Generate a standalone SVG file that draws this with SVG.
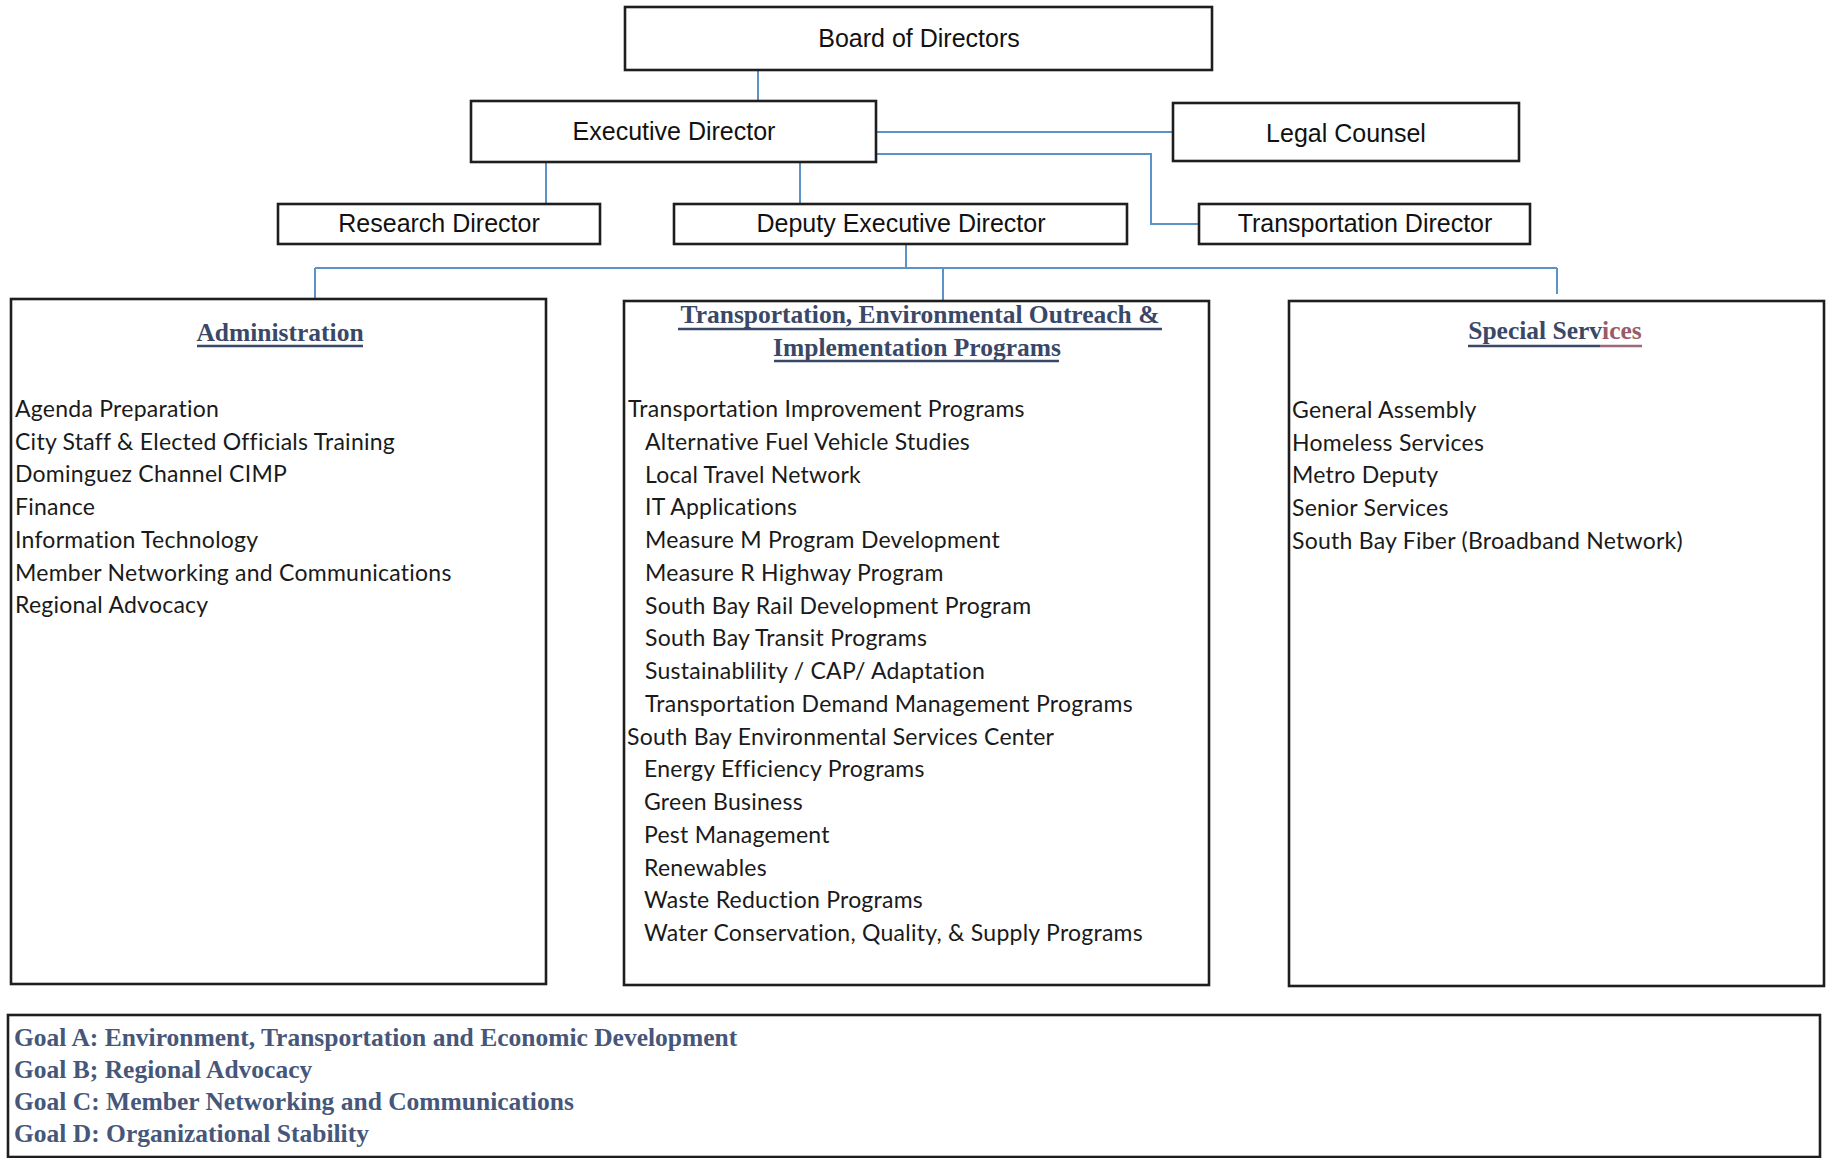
<svg xmlns="http://www.w3.org/2000/svg" width="1832" height="1158" viewBox="0 0 1832 1158">
<style>
.box{fill:#ffffff;stroke:#1e1e1e;stroke-width:2.6}
.conn{fill:none;stroke:#5b93c6;stroke-width:2}
.lbl{font-family:"Liberation Sans",Arial,sans-serif;font-size:25px;fill:#111111;text-anchor:middle}
.ttl{font-family:"Liberation Serif","Times New Roman",serif;font-weight:bold;font-size:25.5px;fill:#3a4868;text-anchor:middle}
.ul{stroke:#3a4868;stroke-width:2.5}
.body{font-family:Lato,"Open Sans",sans-serif;font-size:23px;letter-spacing:0.25px;fill:#1a1a1a}
.goal{font-family:"Liberation Serif","Times New Roman",serif;font-weight:bold;font-size:25.5px;fill:#46577a}
</style>
<rect width="1832" height="1158" fill="#ffffff"/>
<g id="connectors">
<path class="conn" d="M758 70V101"/>
<path class="conn" d="M876 132H1173"/>
<path class="conn" d="M876 154H1151V224H1199"/>
<path class="conn" d="M546 162V204"/>
<path class="conn" d="M800 162V204"/>
<path class="conn" d="M906 244V268"/>
<path class="conn" d="M315 268H1557"/>
<path class="conn" d="M315 268V299"/>
<path class="conn" d="M943 268V301"/>
<path class="conn" d="M1557 268V294"/>
</g>
<g id="board">
<rect class="box" x="625" y="7" width="587" height="63"/>
<text class="lbl" x="919" y="47">Board of Directors</text>
</g>
<g id="executive">
<rect class="box" x="471" y="101" width="405" height="61"/>
<text class="lbl" x="674" y="140">Executive Director</text>
</g>
<g id="legal">
<rect class="box" x="1173" y="103" width="346" height="58"/>
<text class="lbl" x="1346" y="142">Legal Counsel</text>
</g>
<g id="research">
<rect class="box" x="278" y="204" width="322" height="40"/>
<text class="lbl" x="439" y="232">Research Director</text>
</g>
<g id="deputy">
<rect class="box" x="674" y="204" width="453" height="40"/>
<text class="lbl" x="901" y="232">Deputy Executive Director</text>
</g>
<g id="transportation">
<rect class="box" x="1199" y="204" width="331" height="40"/>
<text class="lbl" x="1365" y="232">Transportation Director</text>
</g>
<g id="administration">
<rect class="box" x="11" y="299" width="535" height="685"/>
<text class="ttl" x="280" y="341">Administration</text>
<line class="ul" x1="197" y1="346" x2="363" y2="346"/>
<text class="body" x="15" y="417">Agenda Preparation</text>
<text class="body" x="15" y="449.7">City Staff &amp; Elected Officials Training</text>
<text class="body" x="15" y="482.4">Dominguez Channel CIMP</text>
<text class="body" x="15" y="515.1">Finance</text>
<text class="body" x="15" y="547.8">Information Technology</text>
<text class="body" x="15" y="580.5">Member Networking and Communications</text>
<text class="body" x="15" y="613.2">Regional Advocacy</text>
</g>
<g id="programs">
<rect class="box" x="624" y="301" width="585" height="684"/>
<text class="ttl" x="920" y="323">Transportation, Environmental Outreach &amp;</text>
<line class="ul" x1="678" y1="329" x2="1162" y2="329"/>
<text class="ttl" x="917" y="356">Implementation Programs</text>
<line class="ul" x1="774" y1="361" x2="1059" y2="361"/>
<text class="body" x="628" y="417">Transportation Improvement Programs</text>
<text class="body" x="645" y="449.75">Alternative Fuel Vehicle Studies</text>
<text class="body" x="645" y="482.5">Local Travel Network</text>
<text class="body" x="645" y="515.25">IT Applications</text>
<text class="body" x="645" y="548">Measure M Program Development</text>
<text class="body" x="645" y="580.75">Measure R Highway Program</text>
<text class="body" x="645" y="613.5">South Bay Rail Development Program</text>
<text class="body" x="645" y="646.25">South Bay Transit Programs</text>
<text class="body" x="645" y="679">Sustainablility / CAP/ Adaptation</text>
<text class="body" x="645" y="711.75">Transportation Demand Management Programs</text>
<text class="body" x="627" y="744.5">South Bay Environmental Services Center</text>
<text class="body" x="644" y="777.25">Energy Efficiency Programs</text>
<text class="body" x="644" y="810">Green Business</text>
<text class="body" x="644" y="842.75">Pest Management</text>
<text class="body" x="644" y="875.5">Renewables</text>
<text class="body" x="644" y="908.25">Waste Reduction Programs</text>
<text class="body" x="644" y="941">Water Conservation, Quality, &amp; Supply Programs</text>
</g>
<g id="special">
<rect class="box" x="1289" y="301" width="535" height="685"/>
<text class="ttl" x="1555" y="339">Special Serv<tspan fill="#9a5a68">ices</tspan></text>
<line class="ul" x1="1468" y1="346" x2="1600" y2="346"/>
<line x1="1600" y1="346" x2="1642" y2="346" stroke="#9a6a78" stroke-width="2.5"/>
<text class="body" x="1292" y="418">General Assembly</text>
<text class="body" x="1292" y="450.7">Homeless Services</text>
<text class="body" x="1292" y="483.4">Metro Deputy</text>
<text class="body" x="1292" y="516.1">Senior Services</text>
<text class="body" x="1292" y="548.8">South Bay Fiber (Broadband Network)</text>
</g>
<g id="goals">
<rect class="box" x="8" y="1015" width="1812" height="142"/>
<text class="goal" x="14" y="1046">Goal A: Environment, Transportation and Economic Development</text>
<text class="goal" x="14" y="1078">Goal B; Regional Advocacy</text>
<text class="goal" x="14" y="1110">Goal C: Member Networking and Communications</text>
<text class="goal" x="14" y="1142">Goal D: Organizational Stability</text>
</g>
</svg>
